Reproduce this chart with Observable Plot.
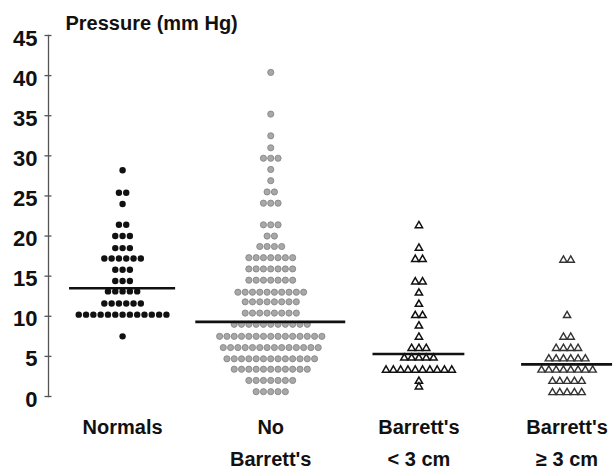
<!DOCTYPE html>
<html>
<head>
<meta charset="utf-8">
<script src="https://cdn.jsdelivr.net/npm/d3@7"></script>
<script src="https://cdn.jsdelivr.net/npm/@observablehq/plot@0.6"></script>
<style>
  html, body { margin: 0; padding: 0; background: #fff; }
  #chart { width: 614px; height: 473px; }
</style>
</head>
<body>
<div id="chart"></div>
<script>
// ---- data ----
const groupNames = ["Normals", "No Barrett's", "Barrett's < 3 cm", "Barrett's \u2265 3 cm"];
const tickLabels = ["Normals", "No\nBarrett's", "Barrett's\n< 3 cm", "Barrett's\n\u2265 3 cm"];
const yTicks = [0, 5, 10, 15, 20, 25, 30, 35, 40, 45];
const titleText = "Pressure (mm Hg)";

const normals = [
  28.2,
  25.4, 25.4,
  24.0,
  21.4, 21.4,
  20.0, 20.0, 20.0,
  18.5, 18.5, 18.5,
  17.2, 17.2, 17.2, 17.2, 17.2, 17.2,
  15.8, 15.8, 15.8,
  14.4, 14.4, 14.4,
  13.1, 13.1, 13.1, 13.1, 13.1,
  11.6, 11.6, 11.6, 11.6, 11.6, 11.6,
  10.2, 10.2, 10.2, 10.2, 10.2, 10.2, 10.2, 10.2, 10.2, 10.2, 10.2, 10.2, 10.2,
  7.5
];

const noBarretts = [
  40.4,
  35.2,
  32.5,
  31.0,
  29.7, 29.7, 29.7,
  28.3,
  26.9,
  25.5, 25.5,
  24.1, 24.1, 24.1,
  21.4, 21.4, 21.4,
  20.0, 20.0,
  18.7, 18.7, 18.7, 18.7,
  17.3, 17.3, 17.3, 17.3, 17.3, 17.3, 17.3,
  15.9, 15.9, 15.9, 15.9, 15.9, 15.9, 15.9,
  14.5, 14.5, 14.5, 14.5, 14.5, 14.5, 14.5,
  13.0, 13.0, 13.0, 13.0, 13.0, 13.0, 13.0, 13.0, 13.0, 13.0,
  11.8, 11.8, 11.8, 11.8, 11.8, 11.8, 11.8, 11.8,
  10.4, 10.4, 10.4, 10.4, 10.4, 10.4, 10.4, 10.4,
  9.0, 9.0, 9.0, 9.0, 9.0, 9.0, 9.0, 9.0, 9.0, 9.0, 9.0,
  7.5, 7.5, 7.5, 7.5, 7.5, 7.5, 7.5, 7.5, 7.5, 7.5, 7.5, 7.5, 7.5, 7.5, 7.5,
  6.1, 6.1, 6.1, 6.1, 6.1, 6.1, 6.1, 6.1, 6.1, 6.1, 6.1, 6.1, 6.1, 6.1,
  4.7, 4.7, 4.7, 4.7, 4.7, 4.7, 4.7, 4.7, 4.7, 4.7, 4.7, 4.7, 4.7,
  3.4, 3.4, 3.4, 3.4, 3.4, 3.4, 3.4, 3.4, 3.4, 3.4, 3.4,
  2.0, 2.0, 2.0, 2.0, 2.0, 2.0, 2.0,
  0.6, 0.6, 0.6, 0.6, 0.6
];

const barrettsShort = [
  21.3,
  18.5,
  17.1, 17.1,
  14.3, 14.3,
  12.9,
  11.5,
  10.1, 10.1,
  8.8,
  7.4,
  6.0, 6.0, 6.0,
  4.8, 4.8, 4.8, 4.8, 4.8,
  3.3, 3.3, 3.3, 3.3, 3.3, 3.3, 3.3, 3.3, 3.3, 3.3,
  1.9,
  1.2
];

const barrettsLong = [
  17.0, 17.0,
  10.1,
  7.4, 7.4,
  6.0, 6.0, 6.0, 6.0,
  4.7, 4.7, 4.7, 4.7, 4.7, 4.7,
  3.3, 3.3, 3.3, 3.3, 3.3, 3.3, 3.3, 3.3,
  1.9, 1.9, 1.9, 1.9, 1.9,
  0.5, 0.5, 0.5, 0.5, 0.5
];

const medians = [13.5, 9.3, 5.3, 4.0];

// ---- layout / style constants ----
const SLOT = 0.0493;                         // dot spacing in x (group) units
const lineHalf = [0.358, 0.506, 0.31, 0.307]; // half-length of median bars in x units

// arrange equal values side by side, centred on the group
function swarm(values, gi) {
  const out = [];
  for (const [v, arr] of d3.group(values, v => v)) {
    const n = arr.length;
    arr.forEach((_, i) => out.push({group: gi, value: v, slot: i - (n - 1) / 2}));
  }
  return out;
}
const sNormals = swarm(normals, 0);
const sNoB = swarm(noBarretts, 1);
const sShort = swarm(barrettsShort, 2);
const sLong = swarm(barrettsLong, 3);
const medianRows = medians.map((m, i) => ({group: i, value: m, half: lineHalf[i], name: groupNames[i]}));

const xPos = d => d.group + d.slot * SLOT;

const chart = Plot.plot({
  width: 614,
  height: 473,
  marginLeft: 48,
  marginRight: 0,
  marginTop: 35,
  marginBottom: 77,
  style: {fontFamily: "'Liberation Sans', Arial, sans-serif", fontWeight: "bold", color: "#111", background: "#fff"},
  x: {domain: [-0.5, 3.32], axis: null},
  y: {domain: [0, 45], axis: null},
  marks: [
    Plot.frame({anchor: "left", stroke: "#555", strokeWidth: 1.3}),
    Plot.axisY(yTicks, {tickSize: 7, dx: 3.5, tickFormat: () => "", label: null, stroke: "#555", strokeWidth: 1.3}),
    Plot.axisY(yTicks, {tickSize: 0, tickPadding: 11, dy: 3, label: null, fontSize: 22, fontWeight: "bold", fill: "#111", letterSpacing: "-1.5px"}),
    Plot.axisX([0, 1, 2, 3], {tickFormat: i => tickLabels[i], tickSize: 0, tickPadding: 15, label: null, fontSize: 20, fontWeight: "bold", lineHeight: 1.6, fill: "#111", letterSpacing: "-1.2px"}),
    Plot.text([titleText], {frameAnchor: "top-left", dx: 17, dy: -6, lineAnchor: "bottom", textAnchor: "start", fontSize: 20, fontWeight: "bold", fill: "#111", letterSpacing: "-1px"}),
    Plot.dot(sNormals, {x: xPos, y: "value", r: 3.2, fill: "#111", stroke: "none"}),
    Plot.dot(sNoB, {x: xPos, y: "value", r: 3.1, fill: "#a8a8a8", stroke: "#808080", strokeWidth: 0.8}),
    Plot.dot(sShort, {x: xPos, y: "value", symbol: "triangle", r: 2.7, fill: "#fff", stroke: "#111", strokeWidth: 1.5}),
    Plot.dot(sLong, {x: xPos, y: "value", symbol: "triangle", r: 2.7, fill: "#fff", stroke: "#333", strokeWidth: 1.4}),
    Plot.ruleY(medianRows, {y: "value", x1: d => d.group - d.half, x2: d => d.group + d.half, stroke: "#111", strokeWidth: 2.6})
  ]
});
document.getElementById("chart").appendChild(chart);
</script>
</body>
</html>
